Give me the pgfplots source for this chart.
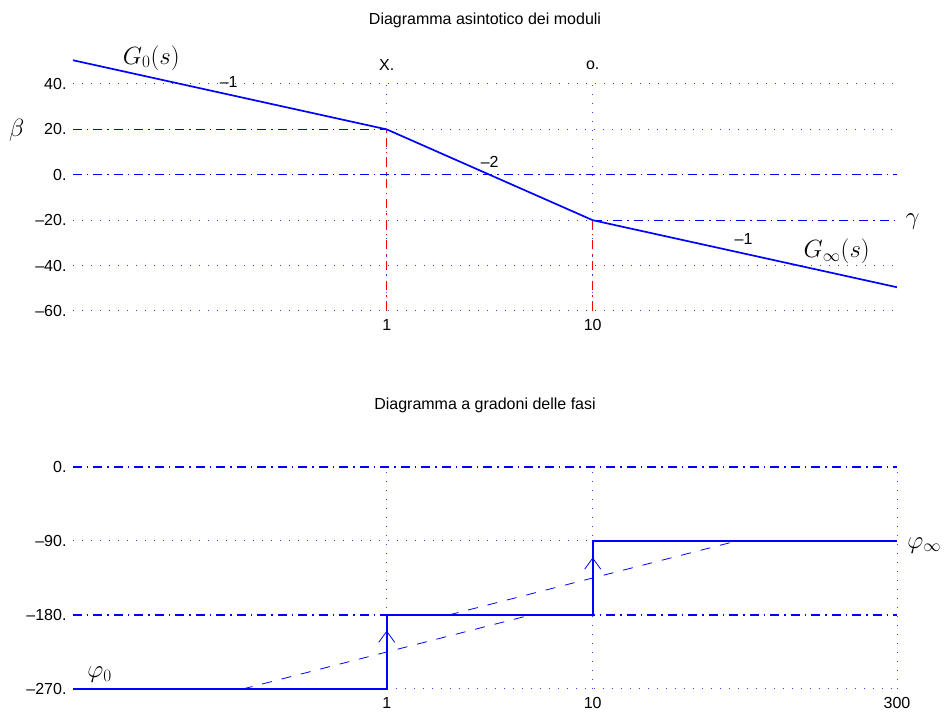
\documentclass[border=0pt]{standalone}
\usepackage{fontspec}
\setmainfont{Liberation Sans}
\usepackage{pgfplots}
\pgfplotsset{compat=1.18}
\usetikzlibrary{arrows.meta}

\definecolor{mplblue}{RGB}{0,0,255}
\definecolor{gridblue}{RGB}{60,60,255}
\definecolor{mplred}{RGB}{255,0,0}
\tikzset{
  mydashdot/.style={color=mplblue, line width=1.1pt, dash pattern=on 9pt off 5pt on 1.5pt off 5pt},
  reddashdot/.style={color=mplred, line width=1.1pt, dash pattern=on 9pt off 5pt on 1.5pt off 5pt},
  mydots/.style={color=gridblue, line width=1pt, dash pattern=on 1pt off 8pt},
}

\begin{document}
\begin{tikzpicture}[x=1pt,y=1pt]
\useasboundingbox (0,0) rectangle (948,722);

% ---------- Top: magnitude ----------
\begin{semilogxaxis}[scale only axis, width=824pt, height=227pt,
  at={(73pt,411pt)}, anchor=south west,
  xmin=0.03, xmax=300, ymin=-60, ymax=40,
  axis line style={draw=none}, tick style={draw=none}, clip=false,
  tick label style={font=\fontsize{16}{19}\selectfont},
  xticklabel style={yshift=-5pt}, yticklabel style={xshift=-3pt},
  ytick={-60,-40,-20,0,20,40},
  yticklabels={{--60.},{--40.},{--20.},{0.},{20.},{40.}},
  xtick={1,10}, xticklabels={1,10}]
  % dotted grid
  \addplot[mydots, forget plot] coordinates {(0.03,40) (300,40)};
  \addplot[mydots, forget plot] coordinates {(1,20) (300,20)};
  \addplot[mydots, forget plot] coordinates {(0.03,-20) (10,-20)};
  \addplot[mydots, forget plot] coordinates {(0.03,-40) (300,-40)};
  \addplot[mydots, forget plot] coordinates {(0.03,-60) (300,-60)};
  \addplot[mydots, forget plot] coordinates {(1,-60) (1,40)};
  \addplot[mydots, forget plot] coordinates {(10,-60) (10,40)};
  % dash-dot references
  \addplot[mydashdot, forget plot] coordinates {(0.03,20) (1,20)};
  \addplot[mydashdot, forget plot] coordinates {(0.03,0) (300,0)};
  \addplot[mydashdot, forget plot] coordinates {(10,-20) (300,-20)};
  \addplot[reddashdot, forget plot] coordinates {(1,-60) (1,20)};
  \addplot[reddashdot, forget plot] coordinates {(10,-60) (10,-20)};
  % asymptotic magnitude
  \addplot[color=mplblue, line width=1.7pt] coordinates {(0.03,50.46) (1,20) (10,-20) (300,-49.54)};
  \node[font=\fontsize{24}{28}\selectfont] at (axis cs:0.072,51.5) {$G_0(s)$};
  \node[font=\fontsize{16}{19}\selectfont] at (axis cs:0.171,41) {--1};
  \node[font=\fontsize{16}{19}\selectfont] at (axis cs:1,48.4) {X.};
  \node[font=\fontsize{16}{19}\selectfont] at (axis cs:10,48.4) {o.};
  \node[font=\fontsize{16}{19}\selectfont] at (axis cs:3.16,5.7) {--2};
  \node[font=\fontsize{16}{19}\selectfont] at (axis cs:54,-28.5) {--1};
  \node[font=\fontsize{24}{28}\selectfont] at (axis cs:153,-33.8) {$G_\infty(s)$};
  \node[font=\fontsize{24}{28}\selectfont] at (axis cs:0.016,19.5) {$\beta$};
  \node[font=\fontsize{24}{28}\selectfont] at (axis cs:357,-20.5) {$\gamma$};
\end{semilogxaxis}

% ---------- Bottom: phase ----------
\begin{semilogxaxis}[scale only axis, width=824pt, height=222pt,
  at={(73pt,33pt)}, anchor=south west,
  xmin=0.03, xmax=300, ymin=-270, ymax=0,
  axis line style={draw=none}, tick style={draw=none}, clip=false,
  tick label style={font=\fontsize{16}{19}\selectfont},
  xticklabel style={yshift=-5pt}, yticklabel style={xshift=-3pt},
  ytick={-270,-180,-90,0},
  yticklabels={{--270.},{--180.},{--90.},{0.}},
  xtick={1,10,300}, xticklabels={1,10,300}]
  % dotted grid
  \addplot[mydots, forget plot] coordinates {(0.03,-90) (10,-90)};
  \addplot[mydots, forget plot] coordinates {(1,-270) (300,-270)};
  \addplot[mydots, forget plot] coordinates {(1,-270) (1,0)};
  \addplot[mydots, forget plot] coordinates {(10,-270) (10,0)};
  \addplot[mydots, forget plot] coordinates {(300,-270) (300,0)};
  % dash-dot references
  \addplot[mydashdot, forget plot] coordinates {(0.03,0) (300,0)};
  \addplot[mydashdot, forget plot] coordinates {(0.03,-180) (300,-180)};
  % linear phase approximations
  \addplot[color=mplblue, line width=0.8pt, dash pattern=on 10pt off 10pt, forget plot] coordinates {(0.2,-270) (5,-180)};
  \addplot[color=mplblue, line width=0.8pt, dash pattern=on 10pt off 10pt, forget plot] coordinates {(2,-180) (50,-90)};
  % step phase
  \addplot[color=mplblue, line width=1.7pt] coordinates {(0.03,-270) (1,-270) (1,-180) (10,-180) (10,-90) (300,-90)};
  \addplot[color=mplblue, line width=0.8pt, -{Straight Barb[length=11pt,width=16pt]}, forget plot] coordinates {(1,-270) (1,-199)};
  \addplot[color=mplblue, line width=0.8pt, -{Straight Barb[length=11pt,width=16pt]}, forget plot] coordinates {(10,-180) (10,-110)};
  \node[font=\fontsize{24}{28}\selectfont] at (axis cs:0.0404,-253) {$\varphi_0$};
  \node[font=\fontsize{24}{28}\selectfont] at (axis cs:407,-95) {$\varphi_\infty$};
\end{semilogxaxis}

\node[font=\fontsize{16}{19}\selectfont] at (485,702) {Diagramma asintotico dei moduli};
\node[font=\fontsize{16}{19}\selectfont] at (485,317) {Diagramma a gradoni delle fasi};
\end{tikzpicture}
\end{document}
